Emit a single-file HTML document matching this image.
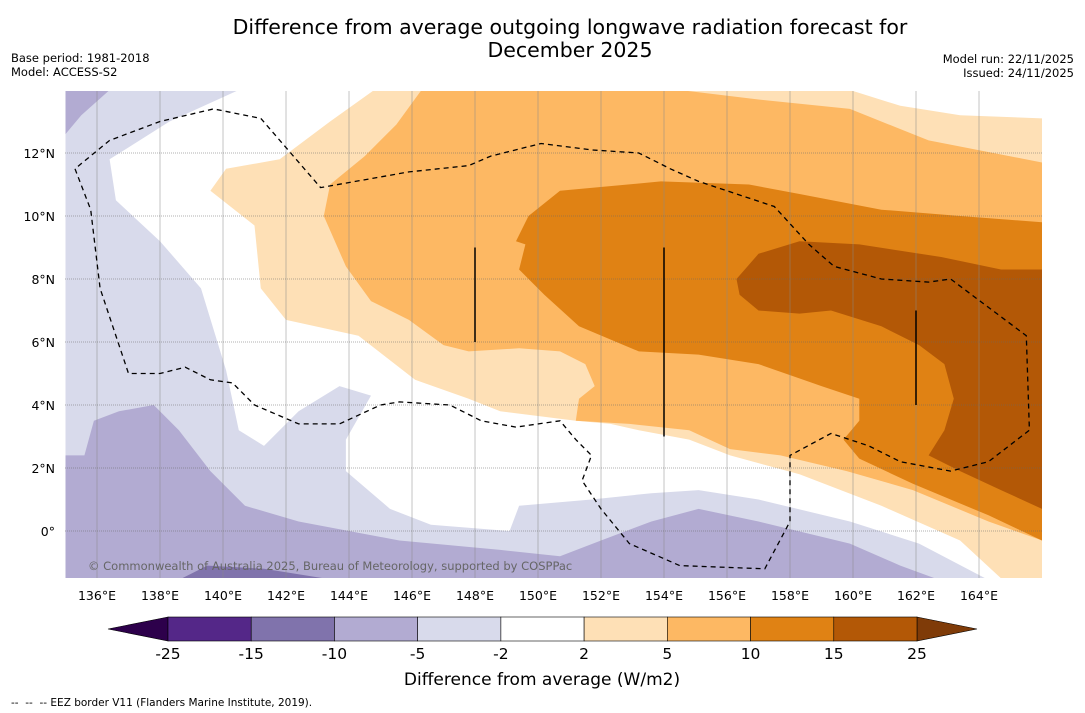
<!DOCTYPE html>
<html><head><meta charset="utf-8"><style>
body{margin:0;background:#fff;font-family:"DejaVu Sans",sans-serif;}
svg{display:block}
</style></head><body>
<svg id="chart" width="1085" height="713" xmlns="http://www.w3.org/2000/svg" font-family="DejaVu Sans, sans-serif">
<text x="570" y="34" font-size="20.5" text-anchor="middle">Difference from average outgoing longwave radiation forecast for</text>
<text x="570" y="57" font-size="20.5" text-anchor="middle">December 2025</text>
<text x="11" y="62" font-size="11.5">Base period: 1981-2018</text>
<text x="11" y="76" font-size="11.5">Model: ACCESS-S2</text>
<text x="1074" y="63" font-size="11.5" text-anchor="end">Model run: 22/11/2025</text>
<text x="1074" y="77" font-size="11.5" text-anchor="end">Issued: 24/11/2025</text>
<defs><clipPath id="mapclip"><rect x="65" y="91" width="977" height="487"/></clipPath></defs>
<g id="map" clip-path="url(#mapclip)"></g>
<g id="axes"></g>
<g id="cbar"></g>
<text x="542" y="685" font-size="17" text-anchor="middle">Difference from average (W/m2)</text>
<text x="11" y="706" font-size="10.5">-- &#160;-- &#160;-- EEZ border V11 (Flanders Marine Institute, 2019).</text>
</svg>
<script>
const lonTicks=[136,138,140,142,144,146,148,150,152,154,156,158,160,162,164];
const latTicks=[0,2,4,6,8,10,12];
const latLabels=["0°","2°N","4°N","6°N","8°N","10°N","12°N"];
const cbarBounds=[-25,-15,-10,-5,-2,2,5,10,15,25];
const cbarColors=["#542788","#8073ac","#b2abd2","#d8daeb","#ffffff","#fee0b6","#fdb863","#e08214","#b35806"];
const lightPurple=[[135,14],[140.5,14],[138.3,13],[136.4,11.8],[136.6,10.5],[138,9.2],[139.3,7.7],[140.1,5.1],[140.5,3.2],[141.3,2.7],[142.4,3.8],[143.7,4.6],[144.7,4.3],[143.9,2.9],[143.9,1.9],[145.3,0.7],[146.6,0.2],[149.1,0],[149.4,0.8],[151.7,1],[153.6,1.2],[155.1,1.3],[157,1],[159.9,0.3],[162.1,-0.4],[164.2,-1.5],[135,-1.5]];
const midPurple=[[135,2.4],[135.6,2.4],[135.9,3.5],[136.7,3.8],[137.8,4],[138.6,3.2],[139.6,1.9],[140.7,0.8],[142.4,0.3],[145.6,-0.3],[148.8,-0.6],[150.7,-0.8],[152,-0.3],[153.6,0.3],[155.1,0.7],[157,0.3],[159.9,-0.4],[161.5,-1.1],[162.6,-1.5],[135,-1.5]];
const midPurpleCorner=[[135,14],[136.4,14],[135.5,13.2],[135,12.6]];
const darkPurple=[[138.7,-1.5],[139.5,-1.1],[141.3,-1.2],[143.2,-1.5]];
const peach=[[144.8,14],[159.9,14],[161.5,13.5],[163.4,13.2],[166,13.1],[166,-1.5],[164.7,-1.5],[163.4,-0.3],[160.9,0.8],[158.3,1.8],[156.1,2.4],[154.8,2.9],[153.2,3.2],[152.3,3.4],[151.2,3.5],[148.8,3.8],[147.8,4.2],[146.1,4.8],[144.3,6.2],[142,6.7],[141.2,7.7],[141,9.7],[139.6,10.8],[140.1,11.5],[141.8,11.8],[143.4,13]];
const orange=[[146.3,14],[154.5,14],[157,13.7],[159.9,13.4],[162.4,12.4],[166,11.7],[166,-0.3],[164.3,0.3],[161.9,1.3],[159.8,1.9],[157.7,2.4],[156.1,2.6],[154.8,3.2],[152.9,3.4],[151.2,3.5],[151.3,4.2],[151.8,4.6],[151.5,5.3],[150.7,5.7],[149.4,5.8],[147.8,5.7],[147,5.9],[145.9,6.7],[144.7,7.3],[143.9,8.4],[143.2,10],[143.4,11],[144.5,11.9],[145.5,12.9]];
const darkOrange=[[149.7,10],[150.7,10.8],[153.9,11.1],[156.7,11],[158.3,10.7],[160.9,10.2],[163.4,10],[166,9.8],[166,-0.3],[164.3,0.5],[161.9,1.5],[160.2,2.3],[159.7,2.9],[160.2,3.5],[160.2,4.2],[159,4.6],[157,5.3],[155.1,5.6],[153.2,5.7],[151.3,6.5],[150.2,7.5],[149.4,8.3],[149.6,9.1],[149.3,9.2]];
const brown=[[156.3,8],[157,8.8],[158.3,9.2],[160.2,9.1],[162.8,8.7],[164.7,8.3],[166,8.3],[166,0.7],[164.7,1.3],[163.4,1.9],[162.4,2.4],[162.9,3.2],[163.2,4.2],[162.9,5.3],[162.1,5.9],[160.9,6.5],[159.3,7],[158.3,6.9],[157,7],[156.4,7.5]];
const eez=[[135.3,11.5],[135.8,10.2],[136.1,7.7],[137,5],[138,5],[138.8,5.2],[139.6,4.8],[140.3,4.7],[141,4],[142.4,3.4],[143.7,3.4],[145,4],[145.6,4.1],[147.2,4],[148.2,3.5],[149.3,3.3],[150.7,3.5],[151.2,2.9],[151.7,2.4],[151.4,1.6],[152,0.7],[152.9,-0.4],[154.5,-1.1],[157.2,-1.2],[158,0.3],[158,2.4],[159.3,3.1],[160.5,2.7],[161.5,2.2],[163.1,1.9],[164.3,2.2],[165.6,3.2],[165.5,6.2],[163.1,8],[162.4,7.9],[160.9,8],[159.4,8.4],[158.6,9.1],[157.5,10.3],[155.1,11.1],[154.2,11.5],[153.2,12],[151.7,12.1],[150.1,12.3],[148.5,11.9],[147.8,11.6],[145.9,11.4],[143.1,10.9],[141.2,13.1],[139.7,13.4],[138,13],[136.4,12.4]];
const islandLines=[[148,9,6],[154,9,3],[162,7,4]];

const NS="http://www.w3.org/2000/svg";
const X=lon=>97+(lon-136)*31.5;
const Y=lat=>531-lat*31.5;
const map=document.getElementById('map'),axes=document.getElementById('axes'),cb=document.getElementById('cbar');
function mk(tag,attrs,parent){const e=document.createElementNS(NS,tag);for(const k in attrs)e.setAttribute(k,attrs[k]);parent.appendChild(e);return e;}
const bg=mk('rect',{x:65,y:91,width:977,height:487,fill:'#fff'},map);


const pts=a=>a.map(p=>X(p[0]).toFixed(1)+','+Y(p[1]).toFixed(1)).join(' ');
const layers=[[lightPurple,cbarColors[3],'region-minus5-to-minus2'],[midPurple,cbarColors[2],'region-minus10-to-minus5'],[midPurpleCorner,cbarColors[2],'region-minus10-corner'],[darkPurple,cbarColors[1],'region-minus15-to-minus10'],[peach,cbarColors[5],'region-2-to-5'],[orange,cbarColors[6],'region-5-to-10'],[darkOrange,cbarColors[7],'region-10-to-15'],[brown,cbarColors[8],'region-15-to-25']];
layers.forEach(l=>{const p=mk('polygon',{points:pts(l[0]),fill:l[1],stroke:'none'},map);

});
lonTicks.forEach(lon=>{const g=mk('line',{x1:X(lon),x2:X(lon),y1:91,y2:578,stroke:'#888','stroke-width':0.5},map);


const t=mk('text',{x:X(lon),y:600,'font-size':12.5,'text-anchor':'middle'},axes);t.textContent=lon+'°E';

});
latTicks.forEach((lat,i)=>{const g=mk('line',{x1:65,x2:1042,y1:Y(lat),y2:Y(lat),stroke:'#666','stroke-width':0.6,'stroke-dasharray':'1,1'},map);


const t=mk('text',{x:55,y:Y(lat)+5,'font-size':12.5,'text-anchor':'end'},axes);t.textContent=latLabels[i];

});
const ez=mk('polygon',{points:pts(eez),fill:'none',stroke:'#000','stroke-width':1.3,'stroke-dasharray':'5,4'},map);


islandLines.forEach(l=>{const e=mk('line',{x1:X(l[0]),x2:X(l[0]),y1:Y(l[1]),y2:Y(l[2]),stroke:'#000','stroke-width':1.5},map);

});
const cp=mk('text',{x:88,y:570,'font-size':11.5,fill:'#666'},map);cp.textContent='© Commonwealth of Australia 2025, Bureau of Meteorology, supported by COSPPac';


const cx0=168,cx1=917,cy=617,ch=24,n=cbarColors.length,sw=(cx1-cx0)/n;
const lt=mk('polygon',{points:`${cx0},${cy} 108,${cy+ch/2} ${cx0},${cy+ch}`,fill:'#2d004b',stroke:'#000','stroke-width':0.6},cb);


const rt=mk('polygon',{points:`${cx1},${cy} 977,${cy+ch/2} ${cx1},${cy+ch}`,fill:'#7f3b08',stroke:'#000','stroke-width':0.6},cb);


cbarColors.forEach((c,i)=>{const r=mk('rect',{x:cx0+i*sw,y:cy,width:sw,height:ch,fill:c,stroke:'#000','stroke-width':0.6},cb);

});
cbarBounds.forEach((b,i)=>{const t=mk('text',{x:cx0+i*sw,y:659,'font-size':15.5,'text-anchor':'middle'},cb);t.textContent=b;

});
</script>
</body></html>
